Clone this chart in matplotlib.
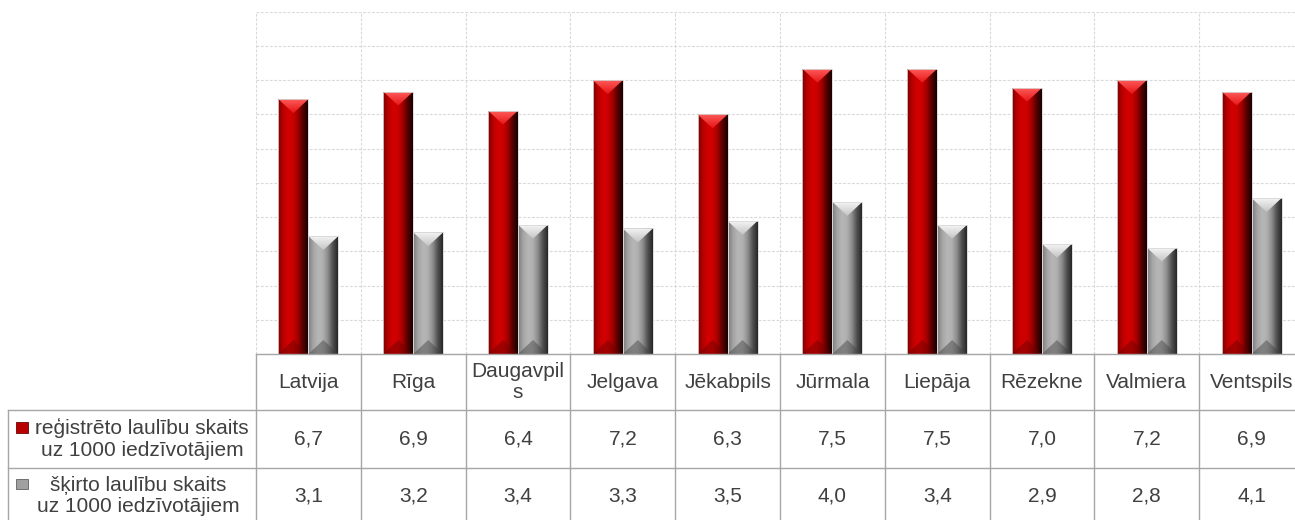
import numpy as np
import matplotlib
matplotlib.use('Agg')
import matplotlib.pyplot as plt
from matplotlib.patches import Polygon, Rectangle
from matplotlib.colors import LinearSegmentedColormap

plt.rcParams['font.family'] = ['Liberation Sans', 'DejaVu Sans']

# ---- data ----
categories = ["Latvija", "Rīga", "Daugavpils", "Jelgava", "Jēkabpils",
              "Jūrmala", "Liepāja", "Rēzekne", "Valmiera", "Ventspils"]
header_labels = ["Latvija", "Rīga", "Daugavpil\ns", "Jelgava", "Jēkabpils",
                 "Jūrmala", "Liepāja", "Rēzekne", "Valmiera", "Ventspils"]
registered = [6.7, 6.9, 6.4, 7.2, 6.3, 7.5, 7.5, 7.0, 7.2, 6.9]
divorced = [3.1, 3.2, 3.4, 3.3, 3.5, 4.0, 3.4, 2.9, 2.8, 4.1]
series_names = ["reģistrēto laulību skaits\nuz 1000 iedzīvotājiem",
                "šķirto laulību skaits\nuz 1000 iedzīvotājiem"]

W, H = 1295, 520
TXT = '#404040'
LINE = '#a6a6a6'
FS = 15
LS = 1.17

fig = plt.figure(figsize=(W / 100, H / 100), dpi=100)
ax = fig.add_axes([256 / W, 1 - 354 / H, (1304 - 256) / W, (354 - 11.7) / H])
ymax = 9.0
ax.set_xlim(-0.5, len(categories) - 0.5)
ax.set_ylim(0, ymax)

x = np.arange(len(categories))
bw = 0.286
off = 0.143
bars_r = ax.bar(x - off, registered, bw, color='#c00000', zorder=3, lw=0)
bars_g = ax.bar(x + off, divorced, bw, color='#a0a0a0', zorder=3, lw=0)

px_per_unit = (354 - 11.7) / ymax
depth = 14 / px_per_unit

red_side = ['#7a0000', '#b80000', '#d20000', '#cc0000', '#a00000', '#500000', '#1a0000']
gray_side = ['#7a7a7a', '#a4a4a4', '#b6b6b6', '#b0b0b0', '#8c8c8c', '#505050', '#262626']
red_top = ['#ff5a5a', '#e51515']
gray_top = ['#f4f4f4', '#c4c4c4']
red_bot = '#6a0000'
gray_bot = '#404040'


def shade(bar, side, top, bot):
    x0 = bar.get_x(); w = bar.get_width(); h = bar.get_height()
    cm = LinearSegmentedColormap.from_list('s', side)
    im = ax.imshow(np.linspace(0, 1, 128)[None, :], cmap=cm, extent=[x0, x0 + w, 0, h],
                   aspect='auto', zorder=4, interpolation='bilinear')
    im.set_clip_path(bar)
    # top bevel
    tri = Polygon([(x0, h), (x0 + w, h), (x0 + w / 2, h - depth)], closed=True,
                  fc='none', ec='none', zorder=5)
    ax.add_patch(tri)
    cmt = LinearSegmentedColormap.from_list('t', top)
    imt = ax.imshow(np.linspace(0, 1, 64)[:, None], cmap=cmt,
                    extent=[x0, x0 + w, h - depth, h], aspect='auto', zorder=5,
                    interpolation='bilinear', origin='upper')
    imt.set_clip_path(tri)
    # bottom bevel
    tb = Polygon([(x0, 0), (x0 + w, 0), (x0 + w / 2, depth)], closed=True,
                 fc=bot, ec='none', alpha=0.45, zorder=5)
    ax.add_patch(tb)
    ax.add_patch(Rectangle((x0, 0), w, h, fill=False, ec='#d8d8d8', lw=0.6, zorder=6))


for b in bars_r:
    shade(b, red_side, red_top, red_bot)
for b in bars_g:
    shade(b, gray_side, gray_top, gray_bot)

ax.set_xlim(-0.5, len(categories) - 0.5)
ax.set_ylim(0, ymax)
ax.set_yticks(np.arange(0, ymax + 0.01, 0.9))
ax.set_xticks(np.arange(-0.5, len(categories), 1.0))
ax.grid(True, color='#d9d9d9', linestyle=(0, (2.5, 1.5)), lw=0.8, zorder=0)
ax.tick_params(length=0, labelbottom=False, labelleft=False)
for s in ax.spines.values():
    s.set_visible(False)

# ---- data table below the plot ----
tab = fig.add_axes([0, 0, 1, 1])
tab.set_xlim(0, W)
tab.set_ylim(H, 0)
tab.axis('off')
tab.patch.set_alpha(0)

bounds = [ax.transData.transform((i - 0.5, 0))[0] for i in range(len(categories) + 1)]
centers = [ax.transData.transform((i, 0))[0] for i in range(len(categories))]

y_top, y_r1, y_r2 = 354, 410, 467.7
tab.plot([bounds[0], W + 10], [y_top, y_top], color=LINE, lw=1.0)
tab.plot([8, W + 10], [y_r1, y_r1], color=LINE, lw=1.0)
tab.plot([8, W + 10], [y_r2, y_r2], color=LINE, lw=1.0)
for b in bounds:
    tab.plot([b, b], [y_top, H + 5], color=LINE, lw=1.0)
tab.plot([8, 8], [y_r1, H + 5], color=LINE, lw=1.0)


def fmt(v):
    return f"{v:.1f}".replace('.', ',')


for cx, lab, r, d in zip(centers, header_labels, registered, divorced):
    tab.text(cx, 382, lab, ha='center', va='center', fontsize=FS, color=TXT, linespacing=LS)
    tab.text(cx, 439, fmt(r), ha='center', va='center', fontsize=FS, color=TXT)
    tab.text(cx, 496, fmt(d), ha='center', va='center', fontsize=FS, color=TXT)

tab.text(142, 439, series_names[0], ha='center', va='center', multialignment='center',
         fontsize=FS, color=TXT, linespacing=LS)
tab.text(138, 496, series_names[1], ha='center', va='center', multialignment='center',
         fontsize=FS, color=TXT, linespacing=LS)

tab.add_patch(Rectangle((16, 422), 12, 11, fc='#b80000', ec='#700000', lw=0.6))
tab.add_patch(Rectangle((16, 479), 12, 10, fc='#a0a0a0', ec='#606060', lw=0.6))

fig.savefig('out.png', dpi=100)
